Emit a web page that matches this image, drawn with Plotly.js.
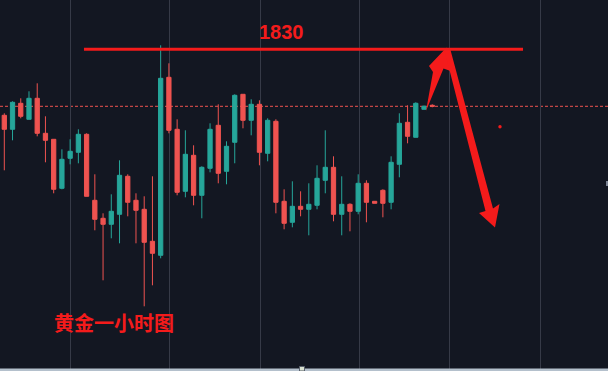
<!DOCTYPE html>
<html>
<head>
<meta charset="utf-8">
<script src="https://cdn.plot.ly/plotly-3.0.1.min.js"></script>
<style>
html,body{margin:0;padding:0;background:#131722;}
#chart{width:608px;height:371px;}
</style>
</head>
<body>
<div id="chart"></div>
<script>
// ---- data ----
const candleIndex = Array.from({length: 53}, (_, i) => i);
const openPrices  = [1823.4,1822.0,1824.6,1823.0,1825.1,1821.6,1821.0,1816.1,1819.1,1819.7,
                     1821.5,1814.9,1813.1,1812.5,1813.5,1817.3,1814.9,1814.0,1810.8,1809.4,
                     1827.2,1822.0,1815.8,1819.4,1815.4,1818.1,1822.4,1817.8,1820.7,1825.5,
                     1822.9,1824.5,1819.6,1822.8,1814.8,1812.7,1814.3,1814.0,1814.4,1816.9,
                     1818.2,1813.5,1814.5,1813.8,1816.6,1814.8,1815.9,1814.7,1818.5,1822.7,
                     1821.2,1824.0,1824.4];
const highPrices  = [1823.6,1824.8,1825.1,1825.8,1826.6,1823.3,1821.0,1820.0,1821.0,1822.0,
                     1821.6,1817.5,1813.6,1815.5,1818.9,1817.5,1815.6,1815.3,1817.3,1830.4,
                     1828.6,1823.0,1821.9,1820.4,1818.3,1822.6,1824.5,1820.8,1825.5,1825.5,
                     1825.0,1824.9,1823.1,1823.0,1816.0,1816.8,1815.8,1816.6,1818.4,1821.9,
                     1819.3,1817.3,1814.6,1817.5,1816.9,1814.8,1816.0,1819.3,1823.6,1824.4,
                     1824.7,1824.4,1824.5];
const lowPrices   = [1817.9,1820.9,1823.1,1823.0,1821.3,1818.7,1815.6,1816.0,1818.5,1818.6,
                     1815.3,1811.9,1806.9,1811.1,1810.6,1813.3,1810.6,1804.3,1806.4,1809.1,
                     1821.6,1815.4,1815.2,1814.4,1813.1,1817.7,1816.6,1816.5,1818.6,1822.1,
                     1821.4,1818.4,1818.8,1813.6,1812.0,1812.2,1813.3,1811.4,1814.0,1815.6,
                     1812.8,1811.4,1811.8,1813.5,1812.7,1814.6,1813.2,1814.0,1817.2,1820.6,
                     1821.2,1824.0,1824.2];
const closePrices = [1822.0,1824.7,1823.3,1825.1,1821.6,1820.9,1816.0,1819.0,1819.8,1821.5,
                     1815.3,1813.0,1812.5,1813.8,1817.4,1814.7,1813.9,1810.7,1809.6,1827.1,
                     1821.9,1815.7,1819.5,1815.4,1818.2,1822.0,1817.6,1820.3,1825.4,1822.9,
                     1824.5,1819.7,1822.9,1814.7,1812.6,1814.3,1814.0,1814.5,1817.1,1818.2,
                     1813.5,1814.5,1813.8,1816.6,1814.7,1814.6,1814.6,1818.7,1822.6,1821.3,
                     1824.6,1824.3,1824.3];
const resistanceLevel = 1830;
const currentPrice = 1824.3;
const resistanceLabel = "1830";
const chartLabel = "黄金一小时图";
const timeGridPositions = [8.10, 20.05, 31.13, 43.13, 54.06, 65.13];

// ---- pixel helpers for decorations (paper coords, plot fills the page) ----
const W = 608, H = 371;
const px = x => x / W;
const py = y => 1 - y / H;
function pathPx(points) {
  return 'M ' + points.map(p => px(p[0]).toFixed(5) + ' ' + py(p[1]).toFixed(5)).join(' L ') + ' Z';
}

const RED = '#ef5350', GREEN = '#26a69a', MARK = '#f41b1b';

const trace = {
  type: 'candlestick',
  x: candleIndex,
  open: openPrices, high: highPrices, low: lowPrices, close: closePrices,
  increasing: {line: {color: GREEN, width: 1}, fillcolor: GREEN},
  decreasing: {line: {color: RED, width: 1}, fillcolor: RED},
  whiskerwidth: 0,
  hoverinfo: 'skip',
  showlegend: false
};

const layout = {
  width: W, height: H,
  margin: {l: 0, r: 0, t: 0, b: 0, pad: 0},
  paper_bgcolor: '#131722',
  plot_bgcolor: '#131722',
  boxgap: 0.26,
  showlegend: false,
  xaxis: {
    range: [-0.5225, 73.354],
    tickmode: 'array', tickvals: timeGridPositions,
    showticklabels: false, ticks: '',
    showgrid: true, gridcolor: '#363a47', gridwidth: 1,
    zeroline: false, showline: false,
    rangeslider: {visible: false},
    fixedrange: true
  },
  yaxis: {
    range: [1797.83, 1834.93],
    showgrid: false, showticklabels: false, ticks: '',
    zeroline: false, showline: false, fixedrange: true
  },
  shapes: [
    // current price dotted line
    {type: 'line', xref: 'paper', x0: 0, x1: 1, yref: 'y', y0: currentPrice, y1: currentPrice,
     line: {color: RED, width: 1, dash: '3px,2px'}, layer: 'below'},
    // 1830 resistance line
    {type: 'line', xref: 'x', x0: 9.68, x1: 63.03, yref: 'y', y0: resistanceLevel, y1: resistanceLevel,
     line: {color: MARK, width: 3}},
    // arrow up
    {type: 'path', xref: 'paper', yref: 'paper', fillcolor: MARK, line: {width: 0},
     path: pathPx([[426,111],[433,72],[429,66],[446.5,47.5],[450.5,71],[443.5,68.5]])},
    // arrow down
    {type: 'path', xref: 'paper', yref: 'paper', fillcolor: MARK, line: {width: 0},
     path: pathPx([[444,48.5],[450.5,50],[493,208.5],[499.5,204],[495,227.5],[479,213],[485.5,211]])},
    // small red dot
    {type: 'circle', xref: 'paper', yref: 'paper', x0: px(498.3), x1: px(501.7), y0: py(128.5), y1: py(125),
     fillcolor: MARK, line: {width: 0}},
    // bottom strip
    {type: 'rect', xref: 'paper', yref: 'paper', x0: 0, x1: 1, y0: 0, y1: py(368.5),
     fillcolor: '#b4c0cc', line: {width: 0}},
    {type: 'rect', xref: 'paper', yref: 'paper', x0: px(299.5), x1: px(304.5), y0: 0, y1: py(366.5),
     fillcolor: '#d8e0d0', line: {color: '#59606c', width: 1}},
    // right edge mark
    {type: 'rect', xref: 'paper', yref: 'paper', x0: px(606), x1: 1, y0: py(186), y1: py(181),
     fillcolor: '#7c8494', line: {width: 0}}
  ],
  annotations: [
    {xref: 'paper', yref: 'paper', x: px(281), y: py(32), xanchor: 'center', yanchor: 'middle',
     text: '<b>' + resistanceLabel + '</b>', showarrow: false,
     font: {family: 'Liberation Sans, Arial, sans-serif', size: 20, color: MARK}},
    {xref: 'paper', yref: 'paper', x: px(114), y: py(322), xanchor: 'center', yanchor: 'middle',
     text: '<b>' + chartLabel + '</b>', showarrow: false,
     font: {family: 'Noto Sans CJK SC, sans-serif', size: 20, color: MARK}}
  ]
};

Plotly.newPlot('chart', [trace], layout, {staticPlot: true, displayModeBar: false});
</script>
</body>
</html>
